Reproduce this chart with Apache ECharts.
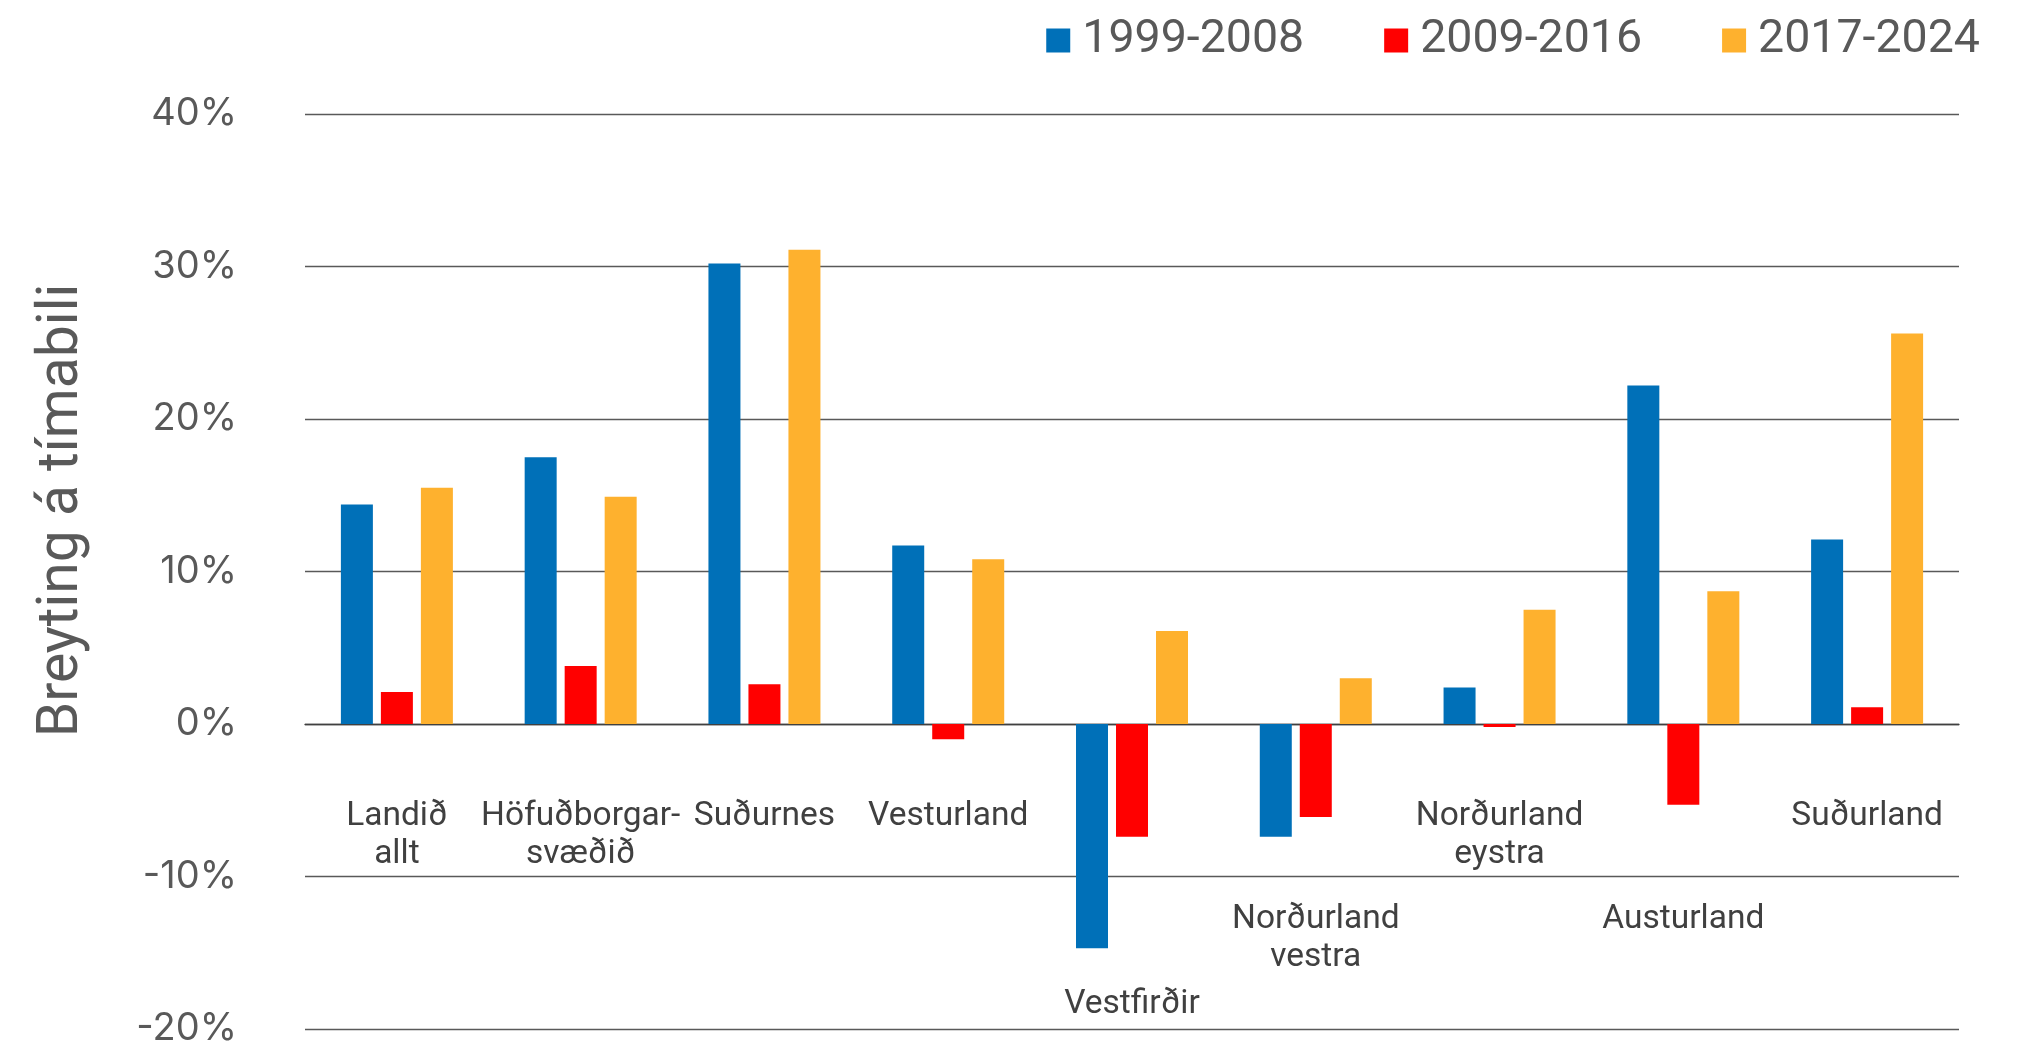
<!DOCTYPE html>
<html><head><meta charset="utf-8">
<script src="https://cdn.jsdelivr.net/npm/echarts@6/dist/echarts.min.js"></script>
<style>html,body{margin:0;padding:0;background:#fff}#c{width:2032px;height:1046px}</style>
</head><body><div id="c"></div>
<script>
// ---- data ----
const categories = ['Landið\nallt', 'Höfuðborgar-\nsvæðið', 'Suðurnes', 'Vesturland', 'Vestfirðir',
  'Norðurland\nvestra', 'Norðurland\neystra', 'Austurland', 'Suðurland'];
const seriesNames = ['1999-2008', '2009-2016', '2017-2024'];
const values1999_2008 = [14.4, 17.5, 30.2, 11.7, -14.7, -7.4, 2.4, 22.2, 12.1];
const values2009_2016 = [2.1, 3.8, 2.6, -1.0, -7.4, -6.1, -0.2, -5.3, 1.1];
const values2017_2024 = [15.5, 14.9, 31.1, 10.8, 6.1, 3.0, 7.5, 8.7, 25.6];
const yMin = -20, yMax = 40, yStep = 10;
const yAxisTitle = 'Breyting á tímabili';

// ---- layout / style ----
const colors = ['#0070B8', '#FF0000', '#FEB12E'];
const labelDropStyle = ['t', 't', 't', 't', 'low', 'mid', 't', 'mid', 't'];

const chart = echarts.init(document.getElementById('c'), null, {renderer: 'canvas'});
chart.setOption({
  animation: false,
  color: colors,
  legend: {
    data: seriesNames, right: 47, top: 12, icon: 'rect', itemWidth: 24, itemHeight: 24, itemGap: 80,
    textStyle: {fontFamily: 'Roboto', fontSize: 46.5, color: '#595959', padding: [0, 0, 0, 7]}
  },
  grid: {left: 305, right: 73, top: 114, bottom: 17, containLabel: false, outerBoundsMode: 'none'},
  xAxis: {
    type: 'category', data: categories,
    axisLine: {onZero: true, lineStyle: {color: '#404040', width: 1.3}},
    axisTick: {show: false},
    axisLabel: {
      interval: 0, hideOverlap: false, margin: -231,
      formatter: function (v, i) {
        const lines = v.split('\n').map(l => '{t|' + l + '}').join('\n');
        const s = labelDropStyle[i];
        return s === 't' ? lines : '{' + s + '| }\n' + lines;
      },
      rich: {
        t: {fontFamily: 'Roboto', fontSize: 33.5, lineHeight: 38, color: '#404040', align: 'center'},
        mid: {fontSize: 2, lineHeight: 103},
        low: {fontSize: 2, lineHeight: 188}
      }
    }
  },
  yAxis: {
    type: 'value', min: yMin, max: yMax, interval: yStep,
    name: yAxisTitle, nameLocation: 'middle', nameRotate: 90, nameGap: 214,
    nameTextStyle: {fontFamily: 'Roboto', fontSize: 57, color: '#595959', padding: [0, 0, 0, 122]},
    axisLine: {show: false}, axisTick: {show: false},
    axisLabel: {formatter: '{value}%', fontFamily: 'Inter', fontSize: 38, color: '#595959', margin: 68},
    splitLine: {lineStyle: {color: '#595959', width: 1.3}}
  },
  series: [
    {name: seriesNames[0], type: 'bar', data: values1999_2008, barWidth: 32, barGap: '25%'},
    {name: seriesNames[1], type: 'bar', data: values2009_2016, barWidth: 32, barGap: '25%'},
    {name: seriesNames[2], type: 'bar', data: values2017_2024, barWidth: 32, barGap: '25%'}
  ]
});
</script>
</body></html>
